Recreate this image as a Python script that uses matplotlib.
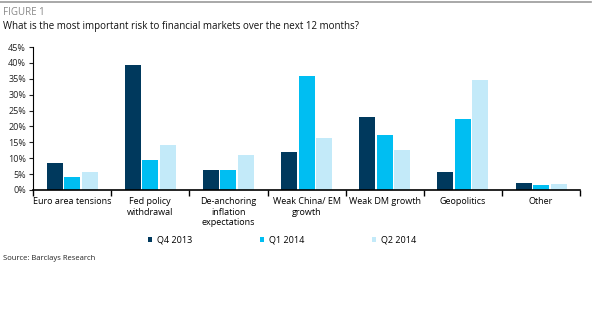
import numpy as np
import matplotlib.pyplot as plt
from matplotlib.lines import Line2D
from matplotlib.ticker import FuncFormatter

plt.rcParams['font.family'] = ['Open Sans', 'DejaVu Sans']

# Datos
categorias = ["Euro area tensions", "Fed policy\nwithdrawal", "De-anchoring\ninflation\nexpectations",
              "Weak China/ EM\ngrowth", "Weak DM growth", "Geopolitics", "Other"]
series = ["Q4 2013", "Q1 2014", "Q2 2014"]
q4_2013 = [8.4, 39.2, 6.3, 12.1, 23.0, 5.6, 2.2]
q1_2014 = [4.0, 9.5, 6.3, 36.0, 17.3, 22.4, 1.6]
q2_2014 = [5.7, 14.2, 11.1, 16.4, 12.5, 34.7, 1.9]
colores = ["#00395D", "#00BEF2", "#C3EAF9"]

fig = plt.figure(figsize=(6, 3.22), dpi=100)
ax = fig.add_axes([0.055, 0.41, 0.912, 0.444])

x = np.arange(len(categorias))
paso = 0.224
for i, (vals, nombre) in enumerate(zip([q4_2013, q1_2014, q2_2014], series)):
    ax.bar(x + (i - 1) * paso, vals, width=0.205, color=colores[i], label=nombre)

ax.set_xlim(-0.5, len(categorias) - 0.5)
ax.set_ylim(0, 45)
ax.set_yticks(np.arange(0, 46, 5))
ax.yaxis.set_major_formatter(FuncFormatter(lambda v, p: f"{v:.0f}%"))
ax.set_xticks(np.arange(-0.5, len(categorias), 1))
ax.set_xticklabels([])
ax.set_xticks(x, minor=True)
ax.set_xticklabels(categorias, minor=True, fontsize=6.5, linespacing=1.25)
ax.tick_params(axis='x', which='minor', length=0, pad=5)
ax.tick_params(axis='x', which='major', length=4, width=1, direction='out')
ax.tick_params(axis='y', length=3, width=0.8, labelsize=6.5, pad=2, colors='#222222')
for s in ['top', 'right']:
    ax.spines[s].set_visible(False)
ax.spines['bottom'].set_linewidth(1.2)
ax.spines['left'].set_linewidth(0.8)

leg = fig.legend(loc='center', bbox_to_anchor=(0.47, 0.255), ncol=3, frameon=False,
                 fontsize=6.5, handlelength=0.5, handleheight=0.5, handletextpad=0.5,
                 columnspacing=7.5)

fig.add_artist(Line2D([0.0, 0.985], [0.994, 0.994], color='#999999', lw=1.2))
fig.text(0.005, 0.962, "FIGURE 1", fontsize=7, color='#888888', va='center')
fig.text(0.005, 0.918, "What is the most important risk to financial markets over the next 12 months?",
         fontsize=7, color='#111111', va='center')
fig.text(0.005, 0.197, "Source: Barclays Research", fontsize=5.5, color='#222222', va='center')

fig.savefig("out.png", dpi=100)
